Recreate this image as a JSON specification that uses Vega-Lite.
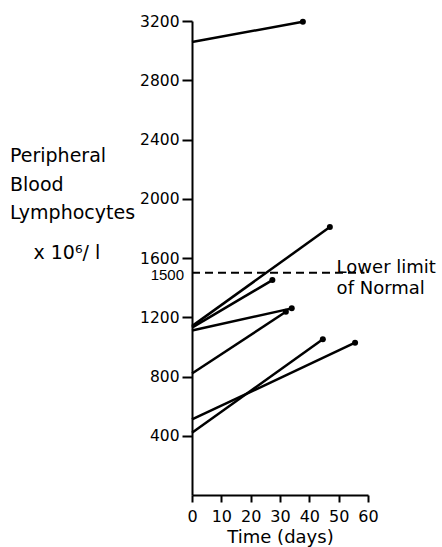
{
  "$schema": "https://vega.github.io/schema/vega-lite/v6.json",
  "width": 176,
  "height": 474,
  "autosize": "none",
  "padding": {"left": 192, "top": 21, "right": 74, "bottom": 52},
  "background": "white",
  "config": {
    "view": {"stroke": null},
    "axis": {"grid": false, "domainColor": "black", "domainWidth": 2, "tickColor": "black", "tickWidth": 2, "labelColor": "black", "titleColor": "black"}
  },
  "title": {
    "text": ["Peripheral", "Blood", "Lymphocytes"],
    "anchor": "start",
    "frame": "group",
    "orient": "top",
    "font": "DejaVu Sans",
    "fontSize": 19,
    "fontWeight": "normal",
    "lineHeight": 28.3,
    "color": "black",
    "dx": -182,
    "dy": 213
  },
  "datasets": {
    "series": [
      {"id": "A", "day": 0, "value": 3058},
      {"id": "A", "day": 37.8, "value": 3195},
      {"id": "B", "day": 0, "value": 1140},
      {"id": "B", "day": 47.0, "value": 1809},
      {"id": "C", "day": 0, "value": 1130},
      {"id": "C", "day": 27.4, "value": 1451},
      {"id": "D", "day": 0, "value": 1110},
      {"id": "D", "day": 34.0, "value": 1260},
      {"id": "E", "day": 0, "value": 820},
      {"id": "E", "day": 32.0, "value": 1237},
      {"id": "F", "day": 0, "value": 510},
      {"id": "F", "day": 55.6, "value": 1028},
      {"id": "G", "day": 0, "value": 420},
      {"id": "G", "day": 44.6, "value": 1051}
    ],
    "limit": [{"day": 0, "day2": 58.8, "value": 1500}],
    "limitNote": [{"day": 49.3, "value": 1500, "label": "Lower limit\nof Normal"}],
    "limitTick": [{"day": 0, "value": 1500, "label": "1500"}]
  },
  "encoding": {
    "x": {
      "field": "day", "type": "quantitative",
      "scale": {"domain": [0, 60], "nice": false},
      "axis": {
        "values": [0, 10, 20, 30, 40, 50, 60],
        "format": "d",
        "title": "Time  (days)",
        "titleFont": "DejaVu Sans", "titleFontSize": 18, "titleFontWeight": "normal", "titlePadding": 4,
        "labelFont": "DejaVu Sans", "labelFontSize": 16, "labelFlush": false, "labelOverlap": false,
        "tickSize": 7, "labelPadding": 6
      }
    },
    "y": {
      "field": "value", "type": "quantitative",
      "scale": {"domain": [0, 3200], "nice": false},
      "axis": {
        "values": [400, 800, 1200, 1600, 2000, 2400, 2800, 3200],
        "format": "d",
        "title": "x 10⁶/ l",
        "titleFont": "DejaVu Sans", "titleFontSize": 19, "titleFontWeight": "normal",
        "titleAngle": 0, "titleAlign": "left", "titleBaseline": "alphabetic",
        "titleX": -159, "titleY": 237,
        "labelFont": "DejaVu Sans", "labelFontSize": 15.5, "labelOverlap": false,
        "tickSize": 10, "labelPadding": 3
      }
    }
  },
  "layer": [
    {
      "data": {"name": "series"},
      "mark": {"type": "line", "color": "black", "strokeWidth": 2.5},
      "encoding": {
        "detail": {"field": "id"}
      }
    },
    {
      "data": {"name": "series"},
      "transform": [{"filter": "datum.day > 0"}],
      "mark": {"type": "circle", "color": "black", "opacity": 1, "size": 36}
    },
    {
      "data": {"name": "limit"},
      "mark": {"type": "rule", "color": "black", "strokeWidth": 2, "strokeDash": [8, 5]},
      "encoding": {
        "x2": {"field": "day2"}
      }
    },
    {
      "data": {"name": "limitNote"},
      "mark": {"type": "text", "align": "left", "baseline": "alphabetic", "font": "DejaVu Sans", "fontSize": 18, "lineHeight": 21, "lineBreak": "\n", "color": "black"},
      "encoding": {
        "text": {"field": "label"}
      }
    },
    {
      "data": {"name": "limitTick"},
      "mark": {"type": "text", "align": "right", "baseline": "middle", "dx": -8, "dy": 2, "font": "Liberation Sans", "fontSize": 15, "color": "black"},
      "encoding": {
        "text": {"field": "label"}
      }
    }
  ]
}
